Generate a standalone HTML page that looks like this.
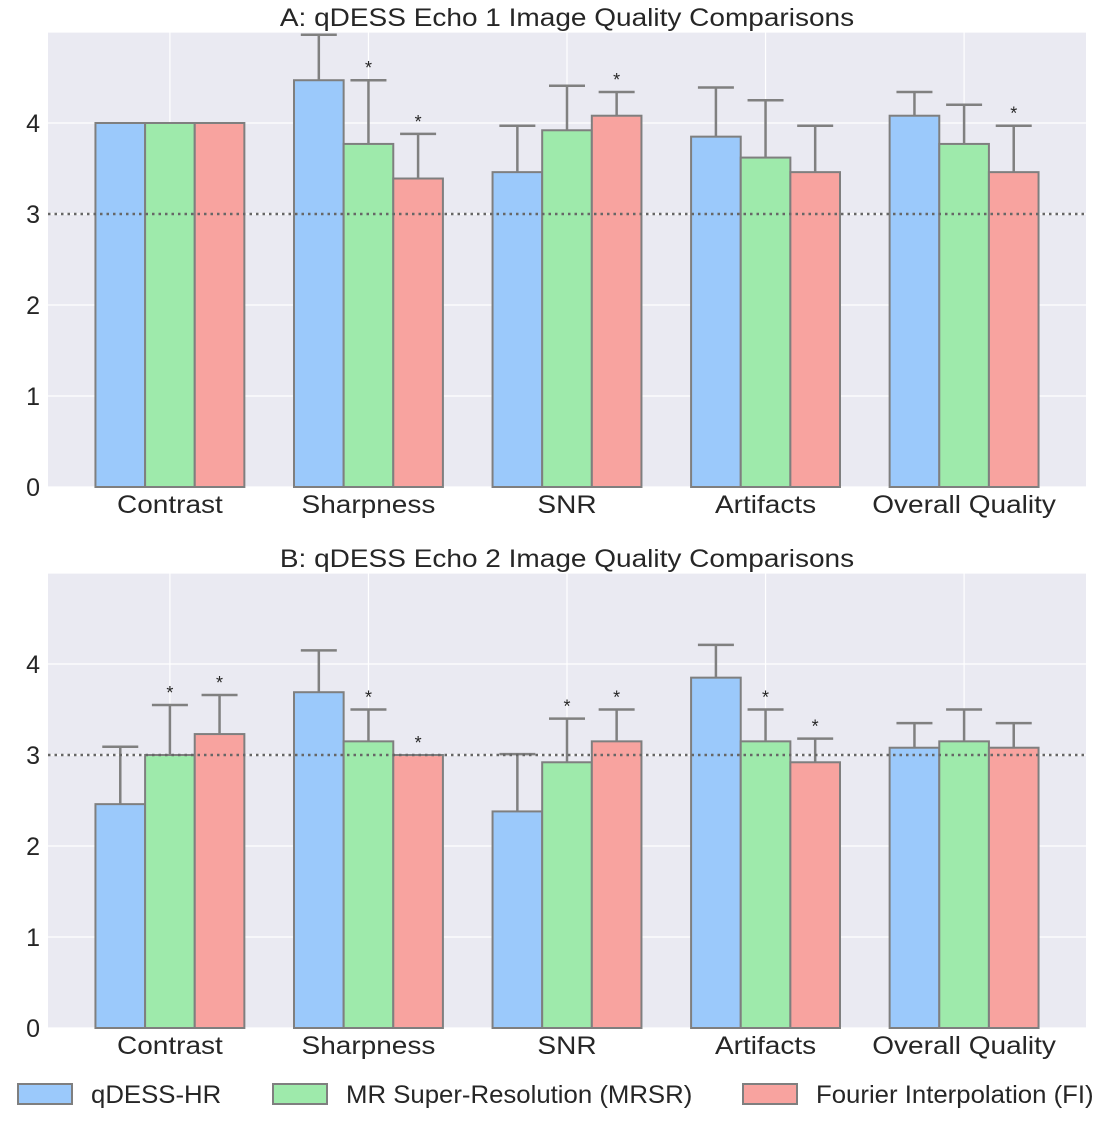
<!DOCTYPE html>
<html><head><meta charset="utf-8"><style>
body{margin:0;background:#fff;font-family:"Liberation Sans",sans-serif;}
</style></head><body>
<svg id="chart" width="1110" height="1125" xmlns="http://www.w3.org/2000/svg" font-family="Liberation Sans, sans-serif"></svg>
<script>
const categories=["Contrast","Sharpness","SNR","Artifacts","Overall Quality"];
const seriesNames=["qDESS-HR","MR Super-Resolution (MRSR)","Fourier Interpolation (FI)"];
const aHR=[4,4.47,3.46,3.85,4.08];
const aMRSR=[4,3.77,3.92,3.62,3.77];
const aFI=[4,3.39,4.08,3.46,3.46];
const aHRerr=[0,0.5,0.51,0.54,0.26];
const aMRSRerr=[0,0.7,0.49,0.63,0.43];
const aFIerr=[0,0.49,0.26,0.51,0.51];
const aStars=[[0,0,0],[0,1,1],[0,0,1],[0,0,0],[0,0,1]];
const bHR=[2.46,3.69,2.38,3.85,3.08];
const bMRSR=[3.0,3.15,2.92,3.15,3.15];
const bFI=[3.23,3.0,3.15,2.92,3.08];
const bHRerr=[0.63,0.46,0.63,0.36,0.27];
const bMRSRerr=[0.55,0.35,0.48,0.35,0.35];
const bFIerr=[0.43,0.0,0.35,0.26,0.27];
const bStars=[[0,1,1],[0,1,1],[0,1,1],[0,1,1],[0,0,0]];
const yTicks=[0,1,2,3,4];
const titles=["A: qDESS Echo 1 Image Quality Comparisons","B: qDESS Echo 2 Image Quality Comparisons"];
const colors=["#9bc9fb","#9eeaab","#f8a39f"];
const NS="http://www.w3.org/2000/svg";
const svg=document.getElementById('chart');
function mk(t,a,p){const e=document.createElementNS(NS,t);for(const k in a)e.setAttribute(k,a[k]);(p||svg).appendChild(e);return e;}
function stretch(t,f){const L=t.getComputedTextLength();t.setAttribute('textLength',L*f);t.setAttribute('lengthAdjust','spacingAndGlyphs');}
function panel(idx,top,vals,errs,stars){
  const left=48,right=1086,bottom=top+455;
  const y=v=>bottom-(v/5)*(bottom-top);
  const x=c=>left+(c+0.614)/(4.614+0.614)*(right-left);
  const g=mk('g',{});
  
  
  const bg=mk('rect',{x:left,y:top,width:right-left,height:bottom-top,fill:'#eaeaf2'},g);
  
  yTicks.concat([5]).forEach(t=>{mk('line',{x1:left,x2:right,y1:y(t),y2:y(t),stroke:'#fff','stroke-width':1.2},g);});
  categories.forEach((c,i)=>{mk('line',{x1:x(i),x2:x(i),y1:top,y2:bottom,stroke:'#fff','stroke-width':1.2},g);});
  yTicks.forEach(t=>{const tx=mk('text',{x:40,y:y(t)+9,'text-anchor':'end','font-size':25,fill:'#262626'},g);tx.textContent=t;
    });
  const w=(x(1)-x(0))*0.25;
  categories.forEach((c,i)=>{
    for(let s=0;s<3;s++){
      const v=vals[s][i],e=errs[s][i],cx=x(i)+(s-1)*w;
      const r=mk('rect',{x:cx-w/2,y:y(v),width:w,height:bottom-y(v),fill:colors[s],stroke:'#7f7f7f','stroke-width':2},g);
      
      if(e>0){mk('line',{x1:cx,x2:cx,y1:y(v),y2:y(v+e),stroke:'#808080','stroke-width':2.5},g);
        mk('line',{x1:cx-18,x2:cx+18,y1:y(v+e),y2:y(v+e),stroke:'#808080','stroke-width':2.5},g);}
      if(stars[i][s]){const st=mk('text',{x:cx,y:y(v+e)-6,'text-anchor':'middle','font-size':18,fill:'#262626'},g);st.textContent='*';
        }
    }
    const tl=mk('text',{x:x(i),y:bottom+26,'text-anchor':'middle','font-size':25,fill:'#262626'},g);tl.textContent=c;
    
    stretch(tl,1.12);
  });
  mk('line',{x1:left,x2:right,y1:y(3),y2:y(3),stroke:'#666','stroke-width':2.5,'stroke-dasharray':'2.5,4'},g);
  const tt=mk('text',{x:567,y:top-6,'text-anchor':'middle','font-size':25,fill:'#262626'},g);tt.textContent=titles[idx];
  
  stretch(tt,1.12);
}
panel(0,32,[aHR,aMRSR,aFI],[aHRerr,aMRSRerr,aFIerr],aStars);
panel(1,573,[bHR,bMRSR,bFI],[bHRerr,bMRSRerr,bFIerr],bStars);
const lx=[18,273,743];
seriesNames.forEach((n,i)=>{
  const r=mk('rect',{x:lx[i],y:1084,width:54,height:20,fill:colors[i],stroke:'#7f7f7f','stroke-width':2});
  
  const t=mk('text',{x:lx[i]+73,y:1103,'font-size':25,fill:'#262626'});t.textContent=n;
  
  stretch(t,1.03);
});
</script>
</body></html>
